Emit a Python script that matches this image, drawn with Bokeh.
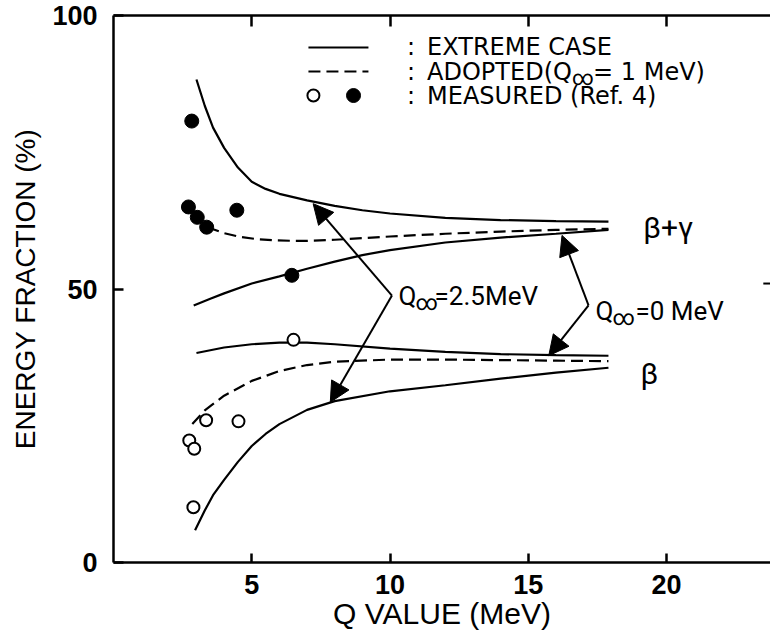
from bokeh.plotting import figure
from bokeh.models import (Range1d, LinearAxis, FixedTicker, Label, Arrow, NormalHead,
                          CustomJSTickFormatter)
from bokeh.embed import file_html
from bokeh.resources import INLINE

# ---- calculated energy fractions (%) versus Q value (MeV) ----
# beta + gamma, extreme case Q_inf = 2.5 MeV (upper branch)
bg_ext25_q = [3.0, 3.3, 3.6, 4.0, 4.5, 5.0, 5.5, 6.0, 7.0, 8.0, 9.0, 10.0, 12.0, 14.0, 16.0, 17.9]
bg_ext25_f = [88.3, 83.5, 79.5, 75.8, 72.2, 69.6, 68.3, 67.4, 66.2, 65.2, 64.4, 63.8, 63.0, 62.6, 62.4, 62.3]
# beta + gamma, adopted Q_inf = 1 MeV
bg_adopt_q = [3.4, 4.0, 4.6, 5.2, 5.8, 6.5, 7.0, 8.0, 9.0, 10.0, 12.0, 14.0, 16.0, 17.9]
bg_adopt_f = [61.3, 60.2, 59.5, 59.1, 58.9, 58.8, 58.8, 59.0, 59.3, 59.6, 60.1, 60.5, 60.8, 61.0]
# beta + gamma, extreme case Q_inf = 0 MeV
bg_ext0_q = [2.9, 3.5, 4.0, 5.0, 6.0, 7.0, 8.0, 9.0, 10.0, 12.0, 14.0, 16.0, 17.9]
bg_ext0_f = [47.0, 48.2, 49.2, 51.0, 52.3, 53.7, 55.0, 56.2, 57.1, 58.5, 59.4, 60.1, 60.8]
# beta only, extreme case Q_inf = 0 MeV
b_ext0_q = [3.0, 4.0, 5.0, 6.0, 7.0, 8.0, 10.0, 12.0, 14.0, 16.0, 17.9]
b_ext0_f = [38.3, 39.3, 39.9, 40.2, 40.2, 39.9, 39.1, 38.5, 38.1, 37.9, 37.8]
# beta only, adopted Q_inf = 1 MeV
b_adopt_q = [2.85, 3.3, 4.0, 5.0, 6.0, 7.0, 8.0, 10.0, 12.0, 14.0, 16.0, 17.9]
b_adopt_f = [25.3, 27.8, 30.5, 33.2, 35.0, 36.1, 36.7, 37.1, 37.1, 37.0, 36.9, 36.8]
# beta only, extreme case Q_inf = 2.5 MeV (lower branch)
b_ext25_q = [2.95, 3.3, 3.6, 4.0, 4.5, 5.0, 5.5, 6.0, 7.0, 8.0, 10.0, 12.0, 14.0, 16.0, 17.9]
b_ext25_f = [5.9, 9.5, 12.3, 15.1, 18.4, 21.3, 23.5, 25.3, 27.9, 29.5, 31.3, 32.4, 33.6, 34.7, 35.6]

# ---- measured values (Ref. 4) ----
meas_bg_q = [2.83, 2.71, 3.03, 3.37, 4.46, 6.45]
meas_bg_f = [80.7, 65.0, 63.1, 61.3, 64.4, 52.5]
meas_b_q = [2.89, 2.74, 2.92, 3.35, 4.52, 6.51]
meas_b_f = [10.1, 22.3, 20.8, 26.0, 25.8, 40.7]

x_ticks = [5, 10, 15, 20]
y_ticks = [0, 50, 100]
x_title = "Q VALUE (MeV)"
y_title = "ENERGY FRACTION (%)"

AXIS_FONT = "Liberation Sans"
NOTE_FONT = "Roboto"
LEGEND_FONT = "DejaVu Sans"
INK = "#000000"

p = figure(width=770, height=640, title=None,
           x_range=Range1d(0, 23.76), y_range=Range1d(0, 100),
           output_backend="svg", toolbar_location=None,
           min_border_left=113, min_border_right=0,
           min_border_top=15, min_border_bottom=78)
p.outline_line_color = None
p.xgrid.visible = False
p.ygrid.visible = False
p.background_fill_color = "white"
p.border_fill_color = "white"

axis_setup = ((p.xaxis[0], x_ticks, 9, 12, x_title, 30, 0),
              (p.yaxis[0], y_ticks, 10, 16, y_title, 28, 8))
for ax, ticks, tick_in, standoff, title, title_size, title_standoff in axis_setup:
    ax.ticker = FixedTicker(ticks=ticks)
    ax.axis_line_width = 2.5
    ax.axis_line_color = INK
    ax.major_tick_in = tick_in
    ax.major_tick_out = 0
    ax.major_tick_line_width = 2.5
    ax.minor_tick_line_color = None
    ax.major_label_text_font = AXIS_FONT
    ax.major_label_text_font_size = "27px"
    ax.major_label_text_font_style = "bold"
    ax.major_label_text_color = INK
    ax.major_label_standoff = standoff
    ax.axis_label = title
    ax.axis_label_text_font = AXIS_FONT
    ax.axis_label_text_font_size = f"{title_size}px"
    ax.axis_label_text_font_style = "normal"
    ax.axis_label_text_color = INK
    ax.axis_label_standoff = title_standoff

# top frame edge: ticks only, no numbers
top_axis = LinearAxis(ticker=FixedTicker(ticks=x_ticks),
                      formatter=CustomJSTickFormatter(code="return ''"),
                      major_tick_in=11, major_tick_out=0, major_tick_line_width=2.5,
                      minor_tick_line_color=None, axis_line_width=2.5, axis_line_color=INK,
                      major_label_standoff=0)
p.add_layout(top_axis, "above")

# calculated curves
solid = dict(line_color=INK, line_width=2.2)
dashed = dict(line_color=INK, line_width=2.2, line_dash="12 6")
p.line(bg_ext25_q, bg_ext25_f, **solid)
p.line(bg_ext0_q, bg_ext0_f, **solid)
p.line(b_ext0_q, b_ext0_f, **solid)
p.line(b_ext25_q, b_ext25_f, **solid)
p.line(bg_adopt_q, bg_adopt_f, **dashed)
p.line(b_adopt_q, b_adopt_f, **dashed)

# measured points
p.scatter(meas_bg_q, meas_bg_f, size=14, marker="circle", fill_color=INK, line_color=INK)
p.scatter(meas_b_q, meas_b_f, size=12, marker="circle", fill_color="white",
          line_color=INK, line_width=2)

# legend block
leg_x0, leg_x1 = 7.05, 9.22
leg_rows = [94.15, 89.76, 85.37]
p.line([leg_x0, leg_x1], [leg_rows[0]] * 2, **solid)
p.line([leg_x0, leg_x1], [leg_rows[1]] * 2, **dashed)
p.scatter([7.23], [leg_rows[2]], size=12, marker="circle", fill_color="white", line_color=INK, line_width=2)
p.scatter([8.68], [leg_rows[2]], size=14, marker="circle", fill_color=INK, line_color=INK)


def note(x, y, text, size, dx=0, dy=0, font=NOTE_FONT, **kw):
    lab = Label(x=x, y=y, text=text, x_offset=dx, y_offset=dy,
                text_font=font, text_font_size=f"{size}px", text_color=INK,
                text_baseline=kw.pop("baseline", "middle"), text_align=kw.pop("align", "left"), **kw)
    p.add_layout(lab)
    return lab


col_x, txt_x = 10.61, 11.34
for row in leg_rows:
    note(col_x, row, ":", 24, font=LEGEND_FONT)
note(txt_x, leg_rows[0], "EXTREME CASE", 24, font=LEGEND_FONT)
note(txt_x, leg_rows[1], "ADOPTED(Q", 24, font=LEGEND_FONT)
note(txt_x, leg_rows[1], "\u221e", 21, dx=145, dy=-6)
note(txt_x, leg_rows[1], "= 1 MeV)", 24, dx=166, font=LEGEND_FONT)
note(txt_x, leg_rows[2], "MEASURED  (Ref. 4)", 24, font=LEGEND_FONT)


# Q_inf annotations with bracket arrows
def bracket(vx, vy, tips):
    for tx, ty in tips:
        p.add_layout(Arrow(end=NormalHead(size=20, fill_color=INK, line_color=INK),
                           x_start=vx, y_start=vy, x_end=tx, y_end=ty,
                           line_color=INK, line_width=2))


bracket(10.07, 48.8, [(7.22, 65.6), (7.84, 29.3)])
note(10.31, 48.8, "Q", 26)
note(10.31, 48.8, "\u221e", 22, dx=17, dy=-7)
note(10.31, 48.8, "=2.5MeV", 26, dx=36)

bracket(17.18, 47.0, [(16.22, 59.8), (15.74, 37.8)])
note(17.43, 46.0, "Q", 26)
note(17.43, 46.0, "\u221e", 22, dx=17, dy=-7)
note(17.43, 46.0, "=0 MeV", 26, dx=40)

# component labels
note(19.16, 61.2, "\u03b2+\u03b3", 30)
note(19.06, 34.5, "\u03b2", 30)

# short tick of the right frame at 50 %
p.segment(x0=[23.5], y0=[51], x1=[23.76], y1=[51], line_color=INK, line_width=2)

open("out.html", "w").write(file_html(p, INLINE))
